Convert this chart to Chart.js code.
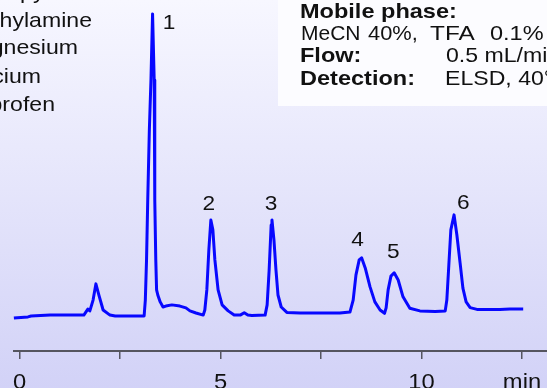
<!DOCTYPE html>
<html>
<head>
<meta charset="utf-8">
<script src="https://cdn.jsdelivr.net/npm/chart.js@4.4.0/dist/chart.umd.min.js"></script>
<style>
  html, body { margin: 0; padding: 0; background: #fff; }
  #wrap { width: 547px; height: 388px; }
</style>
</head>
<body>
<div id="wrap"><canvas id="chart" width="547" height="388"></canvas></div>
<script>
// retention time (min) and detector signal (arb. units, baseline ~0)
const times = [
  -0.14, 0.21, 0.29, 0.76, 1.60, 1.65, 1.70, 1.75, 1.83, 1.90, 1.98, 2.08, 2.25, 2.38,
  3.10, 3.13, 3.16, 3.19, 3.23, 3.27, 3.31, 3.35, 3.36, 3.37, 3.39, 3.41, 3.44, 3.50,
  3.57, 3.64, 3.79, 3.99, 4.14, 4.24, 4.39, 4.57,
  4.61, 4.66, 4.71, 4.76, 4.81, 4.86, 4.94, 5.04, 5.19, 5.34, 5.49, 5.59, 5.68, 5.78, 6.11,
  6.16, 6.21, 6.26, 6.28, 6.33, 6.38, 6.43, 6.51, 6.65, 6.98, 7.48, 7.97, 8.22,
  8.30, 8.37, 8.45, 8.51, 8.60, 8.72, 8.84, 8.97, 9.08,
  9.12, 9.17, 9.24, 9.32, 9.42, 9.54, 9.71, 9.96, 10.34, 10.59,
  10.63, 10.68, 10.73, 10.81, 10.88, 10.96, 11.03, 11.11, 11.21, 11.38, 11.95, 12.20, 12.53
];
const signal = [
  -0.7, -0.3, 0, 0.3, 0.3, 1.3, 2.3, 1.7, 5.3, 10.7, 6.7, 2.0, 0.3, 0,
  0, 5.3, 18.7, 38.7, 62, 78.7, 100.7, 78.7, 62, 38.7, 18.7, 8.7, 7.0, 4.7,
  3.0, 3.3, 3.7, 3.3, 2.7, 1.7, 1.0, 0.3,
  2.0, 8.7, 22, 32, 28.7, 18.7, 8.7, 3.7, 1.7, 0.3, 0.3, 1.1, 0.3, 0.2, 0.3,
  3.7, 15.3, 30.3, 32, 25.3, 15.3, 7.0, 3.0, 1.2, 1.0, 1.0, 1.0, 1.3,
  5.3, 13.7, 18.7, 19.4, 16, 9.7, 4.7, 2.0, 0.9,
  2.7, 8.7, 13.3, 14.4, 12, 6.4, 2.6, 1.7, 1.5, 1.7,
  5.3, 17, 28.7, 33.7, 27, 17.7, 9.3, 4.7, 2.8, 2.2, 2.2, 2.3, 2.3
];

const tickValues = [0, 2.5, 5, 7.5, 10, 12.5];
const tickLabels = ['0', '', '5', '', '10', 'min'];

const peakNames = ['1', '2', '3', '4', '5', '6'];
const peakLabelTimes = [3.72, 4.71, 6.26, 8.41, 9.30, 11.04];
const peakLabelValues = [98, 37.7, 37.7, 25.7, 21.7, 38];

const compounds = ['Antipyrine', 'Diethylamine', 'Magnesium', 'Calcium', 'Ibuprofen'];
const conditionNames = ['Mobile phase:', 'Flow:', 'Detection:'];
const mobilePhase = ['MeCN', '40%,', 'TFA', '0.1%'];
const conditionValues = ['0.5 mL/min', 'ELSD, 40°C'];

const FONT = "'Liberation Sans', Arial, sans-serif";

function stretchText(ctx, text, x, y, sx, align) {
  ctx.save();
  ctx.translate(x, y);
  ctx.scale(sx, 1);
  ctx.textAlign = align;
  ctx.fillText(text, 0, 0);
  ctx.restore();
}

const backdrop = {
  id: 'backdrop',
  beforeDraw(chart) {
    const ctx = chart.ctx;
    const g = ctx.createLinearGradient(0, 0, 0, chart.height);
    g.addColorStop(0, '#f7f7ff');
    g.addColorStop(1, '#d2d2f7');
    ctx.save();
    ctx.fillStyle = g;
    ctx.fillRect(0, 0, chart.width, chart.height);
    // conditions box
    ctx.fillStyle = '#fcfcff';
    ctx.fillRect(278, 0, chart.width - 278, 106);
    ctx.restore();
  }
};

const annotations = {
  id: 'annotations',
  afterDraw(chart) {
    const ctx = chart.ctx;
    const xs = chart.scales.x, ys = chart.scales.y;
    ctx.save();
    ctx.fillStyle = '#111';
    ctx.textBaseline = 'alphabetic';

    // compound list (cut at left edge)
    ctx.font = '21px ' + FONT;
    const listRight = [83, 92, 78, 41, 55];
    const listBase = [-1.3, 26.7, 54.3, 82.7, 111];
    compounds.forEach((c, i) => stretchText(ctx, c, listRight[i], listBase[i], 1.1, 'right'));

    // conditions
    ctx.font = 'bold 21px ' + FONT;
    stretchText(ctx, conditionNames[0], 300, 17.5, 1.12, 'left');
    stretchText(ctx, conditionNames[1], 300, 62, 1.12, 'left');
    stretchText(ctx, conditionNames[2], 300, 85, 1.12, 'left');
    ctx.font = '21px ' + FONT;
    const mpX = [301, 368, 430, 490];
    const mpS = [1.0, 1.04, 1.16, 1.12];
    mobilePhase.forEach((w, i) => stretchText(ctx, w, mpX[i], 39.5, mpS[i], 'left'));
    stretchText(ctx, conditionValues[0], 446, 62, 1.1, 'left');
    stretchText(ctx, conditionValues[1], 445, 85, 1.1, 'left');

    // peak numbers
    ctx.font = '21px ' + FONT;
    peakNames.forEach((p, i) => {
      const px = xs.getPixelForValue(peakLabelTimes[i]);
      const py = ys.getPixelForValue(peakLabelValues[i]);
      stretchText(ctx, p, px, py + 7.5, 1.08, 'center');
    });

    // x tick labels
    ctx.font = '22px ' + FONT;
    tickValues.forEach((v, i) => {
      if (!tickLabels[i]) return;
      stretchText(ctx, tickLabels[i], xs.getPixelForValue(v), 388.5, 1.08, 'center');
    });
    ctx.restore();
  }
};

new Chart(document.getElementById('chart'), {
  type: 'line',
  data: {
    datasets: [{
      data: times.map((t, i) => ({ x: t, y: signal[i] })),
      borderColor: '#0808ff',
      borderWidth: 3,
      borderJoinStyle: 'round',
      pointRadius: 0,
      tension: 0,
      fill: false,
      clip: false
    }]
  },
  options: {
    responsive: false,
    animation: false,
    devicePixelRatio: 1,
    layout: { padding: { left: 14, right: 0, top: 0, bottom: 29 } },
    plugins: { legend: { display: false }, tooltip: { enabled: false } },
    scales: {
      x: {
        type: 'linear',
        min: -0.137,
        max: 13.122,
        afterBuildTicks: (scale) => { scale.ticks = tickValues.map(v => ({ value: v })); },
        ticks: { display: false },
        grid: { drawOnChartArea: false, drawTicks: true, tickLength: 8, color: '#55555f', lineWidth: 1.5 },
        border: { display: true, color: '#55555f', width: 2 }
      },
      y: {
        display: false,
        min: -11.67,
        max: 105.33
      }
    }
  },
  plugins: [backdrop, annotations]
});
</script>
</body>
</html>
